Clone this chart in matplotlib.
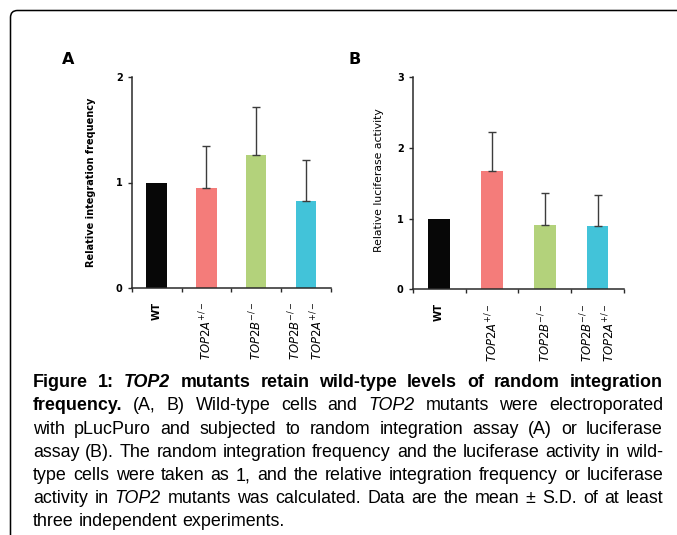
import matplotlib
matplotlib.use("Agg")
import matplotlib.pyplot as plt
from matplotlib import font_manager as fm
from matplotlib.path import Path
from matplotlib.patches import PathPatch
import numpy as np

# ---------------- data ----------------
categories = ["WT", "TOP2A+/-", "TOP2B-/-", "TOP2B-/- TOP2A+/-"]
tick_labels = ["WT",
               r"$\mathit{TOP2A}^{+/-}$",
               r"$\mathit{TOP2B}^{-/-}$",
               r"$\mathit{TOP2B}^{-/-}$" + "\n" + r"$\mathit{TOP2A}^{+/-}$"]
integration_mean = [1.00, 0.95, 1.26, 0.82]
integration_sd = [0.00, 0.40, 0.46, 0.39]
luciferase_mean = [1.00, 1.68, 0.91, 0.90]
luciferase_sd = [0.00, 0.54, 0.45, 0.44]
bar_colors = ["#070707", "#F47C7A", "#B3D27B", "#42C3D9"]

W, H = 677, 535
fig = plt.figure(figsize=(W / 100, H / 100), dpi=100)
fig.patch.set_facecolor("white")
mpl_font = "DejaVu Sans"
plt.rcParams["mathtext.fontset"] = "dejavusans"


def fx(x):
    return x / W


def fy(y):
    return 1 - y / H


def make_axes(left, right, top, bottom):
    return fig.add_axes([fx(left), fy(bottom), (right - left) / W, (bottom - top) / H])


def style_axes(ax, ymax):
    ax.set_xlim(0, 4)
    ax.set_ylim(0, ymax)
    for s in ["top", "right"]:
        ax.spines[s].set_visible(False)
    for s in ["left", "bottom"]:
        ax.spines[s].set_color("#2a2a2a")
        ax.spines[s].set_linewidth(1.1)
    ax.set_yticks(range(0, ymax + 1))
    ax.set_yticklabels([str(v) for v in range(0, ymax + 1)],
                       fontsize=7, fontweight="bold", family=mpl_font)
    ax.tick_params(axis="y", direction="out", length=3, width=1, pad=3.5,
                   color="#2a2a2a")
    ax.set_xticks([0, 1, 2, 3, 4])
    ax.set_xticklabels([])
    ax.tick_params(axis="x", which="major", direction="out", length=3, width=1,
                   color="#2a2a2a")
    ax.set_xticks([0.5, 1.5, 2.5, 3.5], minor=True)
    ax.set_xticklabels(tick_labels, minor=True, rotation=90, fontsize=8.4,
                       family=mpl_font, multialignment="right", linespacing=1.4)
    ax.tick_params(axis="x", which="minor", length=0, pad=10)
    wt = ax.get_xticklabels(minor=True)[0]
    wt.set_fontweight("bold")
    wt.set_fontsize(7.3)
    ax.set_facecolor("none")


def draw_bars(ax, means, sds):
    x = np.arange(len(means)) + 0.5
    ax.bar(x, means, width=0.41, color=bar_colors, zorder=2)
    idx = [i for i in range(len(means)) if sds[i] > 0]
    ax.errorbar(x[idx], np.array(means)[idx],
                yerr=[np.zeros(len(idx)), np.array(sds)[idx]],
                fmt="none", ecolor="#3c3c3c", elinewidth=1.0, capsize=3,
                capthick=1.0, zorder=3)


axA = make_axes(131.7, 331, 77.3, 287.7)
style_axes(axA, 2)
draw_bars(axA, integration_mean, integration_sd)

axB = make_axes(412.7, 624, 77.3, 289.3)
style_axes(axB, 3)
draw_bars(axB, luciferase_mean, luciferase_sd)

# y labels & panel letters
fig.text(fx(91), fy(182.5), "Relative integration frequency", rotation=90,
         ha="center", va="center", fontsize=7, fontweight="bold", family=mpl_font)
fig.text(fx(379), fy(180), "Relative luciferase activity", rotation=90,
         ha="center", va="center", fontsize=7.8, family=mpl_font)
fig.text(fx(68.5), fy(59), "A", ha="center", va="center", fontsize=11.5,
         fontweight="bold", family=mpl_font)
fig.text(fx(355), fy(59), "B", ha="center", va="center", fontsize=11.5,
         fontweight="bold", family=mpl_font)

# frame (top + left edges with rounded corner)
r = 7
verts = [(10.5, H - 0), (10.5, 10.5 + r), (10.5, 10.5), (10.5 + r, 10.5), (W + 2, 10.5)]
codes = [Path.MOVETO, Path.LINETO, Path.CURVE3, Path.CURVE3, Path.LINETO]
verts_fig = [(fx(a), fy(b)) for a, b in verts]
fig.add_artist(PathPatch(Path(verts_fig, codes), transform=fig.transFigure,
                         fill=False, edgecolor="black", linewidth=1.1))

# ---------------- caption ----------------
def font_available(name):
    try:
        fm.findfont(fm.FontProperties(family=name), fallback_to_default=False)
        return True
    except Exception:
        return False


cap_font = "Liberation Sans Narrow" if font_available("Liberation Sans Narrow") else "Liberation Sans"
cap_size = 13.2

B, BI, R, I = ("bold", "normal"), ("bold", "italic"), ("normal", "normal"), ("normal", "italic")
caption_lines = [
    ([("Figure 1:", B), ("TOP2", BI), ("mutants retain wild-type levels of random integration", B)], True),
    ([("frequency.", B), ("(A, B) Wild-type cells and", R), ("TOP2", I), ("mutants were electroporated", R)], True),
    ([("with pLucPuro and subjected to random integration assay (A) or luciferase", R)], True),
    ([("assay (B). The random integration frequency and the luciferase activity in wild-", R)], True),
    ([("type cells were taken as 1, and the relative integration frequency or luciferase", R)], True),
    ([("activity in", R), ("TOP2", I), ("mutants was calculated. Data are the mean \u00b1 S.D. of at least", R)], True),
    ([("three independent experiments.", R)], False),
]
baselines = [387.3, 410.5, 433.7, 456.9, 480.1, 503.3, 526.5]
x_left, x_right = 33, 663

renderer = fig.canvas.get_renderer()


def measure(s, st, size):
    t = fig.text(0, 0, s, fontsize=size, fontweight=st[0], fontstyle=st[1], family=cap_font)
    w = t.get_window_extent(renderer).width
    t.remove()
    return w


def natural_width(line, size):
    words = [(w, st) for chunk, st in line for w in chunk.split()]
    sp = measure("a a", R, size) - measure("aa", R, size)
    return sum(measure(w, st, size) for w, st in words) + sp * (len(words) - 1)


maxw = max(natural_width(l, cap_size) for l, _ in caption_lines)
if maxw > (x_right - x_left):
    cap_size *= (x_right - x_left) / maxw * 0.99

space_w = measure("a a", R, cap_size) - measure("aa", R, cap_size)
for (line, justify), yb in zip(caption_lines, baselines):
    words = [(w, st) for chunk, st in line for w in chunk.split()]
    widths = [measure(w, st, cap_size) for w, st in words]
    if justify and len(words) > 1:
        gap = ((x_right - x_left) - sum(widths)) / (len(words) - 1)
    else:
        gap = space_w
    x = x_left
    for (w, st), wd in zip(words, widths):
        fig.text(fx(x), fy(yb), w, fontsize=cap_size, fontweight=st[0], fontstyle=st[1],
                 family=cap_font, ha="left", va="baseline")
        x += wd + gap

fig.savefig("out.png", dpi=100)
